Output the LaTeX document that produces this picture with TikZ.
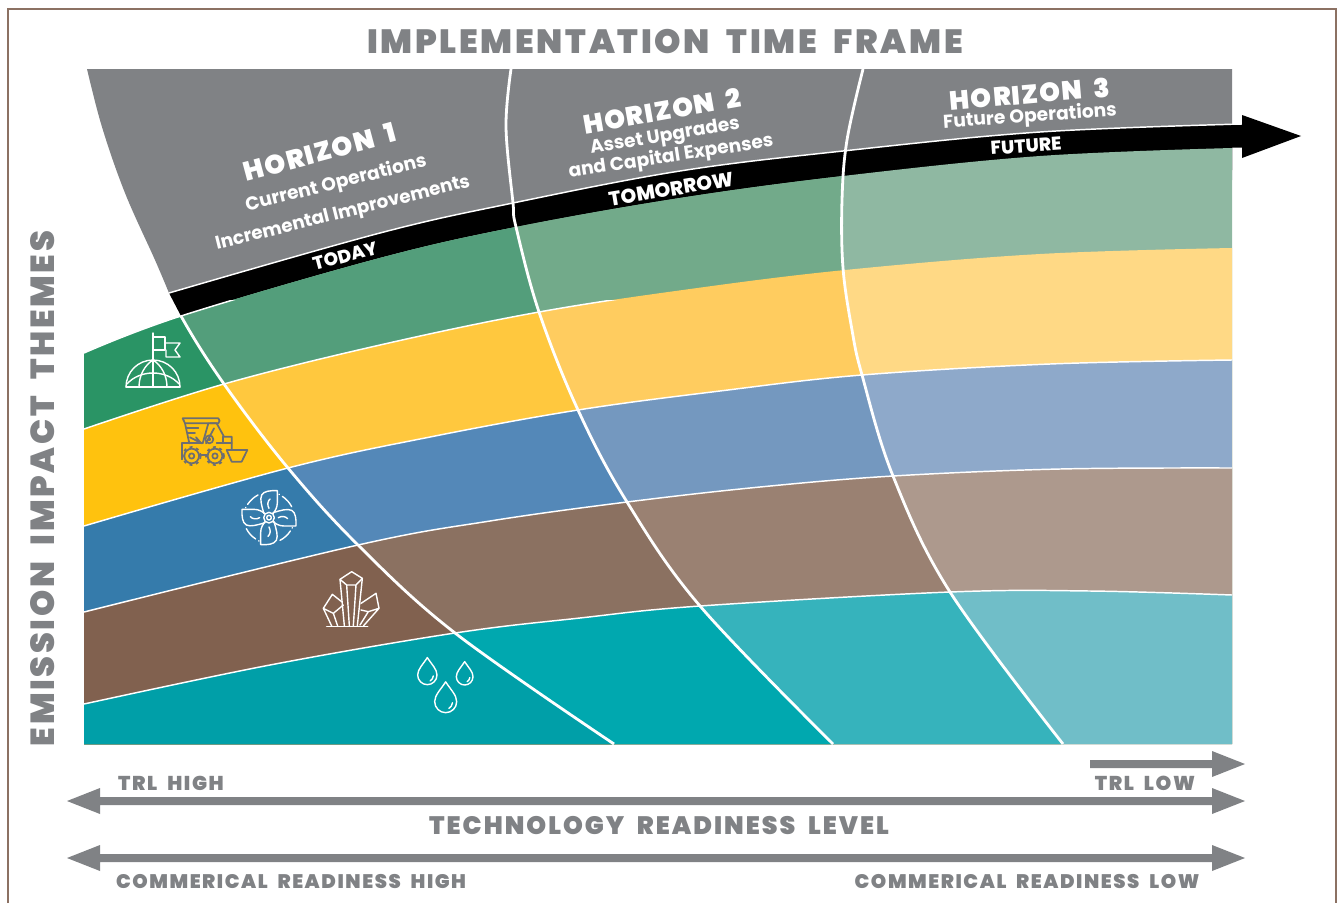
\documentclass[tikz,border=0pt]{standalone}
\usepackage{fontspec}
\newfontfamily\fxb[LetterSpace=8,WordSpace=2]{Poppins Black}
\newfontfamily\fxh[LetterSpace=5,WordSpace=2]{Poppins Black}
\newfontfamily\fxs{Poppins ExtraBold}
\newfontfamily\fsb{Poppins Bold}
\definecolor{grayc}{HTML}{808285}
\definecolor{iconc}{HTML}{6D6E71}
\definecolor{frame}{HTML}{8C7163}
\definecolor{gA}{HTML}{2A9465}\definecolor{yA}{HTML}{FFC20E}\definecolor{bA}{HTML}{357BAB}\definecolor{nA}{HTML}{81614F}\definecolor{tA}{HTML}{009FA8}
\definecolor{gB}{HTML}{539E7B}\definecolor{yB}{HTML}{FFC83E}\definecolor{bB}{HTML}{5488B8}\definecolor{nB}{HTML}{8B7161}\definecolor{tB}{HTML}{00A8AF}
\definecolor{gC}{HTML}{72AA8A}\definecolor{yC}{HTML}{FFCC5F}\definecolor{bC}{HTML}{7498BF}\definecolor{nC}{HTML}{9A8172}\definecolor{tC}{HTML}{36B3BC}
\definecolor{gD}{HTML}{8FB8A2}\definecolor{yD}{HTML}{FFD985}\definecolor{bD}{HTML}{8EA9CA}\definecolor{nD}{HTML}{AD998D}\definecolor{tD}{HTML}{70BEC8}
\def\Rt{plot[smooth,tension=.6] coordinates {(169,293) (380,233) (513,203) (680,171) (843,151) (1040,132) (1242,124)}}
\def\Bz{plot[smooth,tension=.6] coordinates {(84,353) (181,316) (380,258) (516,227) (680,198) (843,176) (1040,156) (1232,148)}}
\def\Ba{plot[smooth,tension=.6] coordinates {(84,429) (224,384) (380,345) (539,312) (690,289) (845,270) (1040,254) (1232,248)}}
\def\Bb{plot[smooth,tension=.6] coordinates {(84,526) (288,468) (430,437) (578,410) (720,391) (862,375) (1050,364) (1232,360)}}
\def\Bc{plot[smooth,tension=.6] coordinates {(84,612) (358,545) (490,521) (627,502) (760,487) (893,476) (1060,469) (1232,468)}}
\def\Bd{plot[smooth,tension=.6] coordinates {(84,704) (270,665) (455,633) (580,618) (700,606) (950,592) (1090,591) (1232,595)}}
\def\Ae{plot[smooth,tension=.6] coordinates {(87,69) (102,127) (125,193) (155,260) (169,293)}}
\def\Ao{plot[smooth,tension=.6] coordinates {(87,69) (102,127) (125,193) (155,260) (181,316) (224,384) (288,468) (358,545) (455,633) (614,744)}}
\def\At{plot[smooth,tension=.6] coordinates {(511,69) (506,127) (513,203) (516,227) (539,312) (578,410) (627,502) (700,606) (833,744)}}
\def\Ah{plot[smooth,tension=.6] coordinates {(863,69) (847,140) (842,200) (843,268) (852,330) (862,375) (893,476) (950,592) (1063,744)}}
\newcommand\bandset[5]{%
  \fill[#1] \Bz -- (1232,744) -- (84,744) -- cycle;
  \fill[#2] \Ba -- (1232,744) -- (84,744) -- cycle;
  \fill[#3] \Bb -- (1232,744) -- (84,744) -- cycle;
  \fill[#4] \Bc -- (1232,744) -- (84,744) -- cycle;
  \fill[#5] \Bd -- (1232,744) -- (84,744) -- cycle;}
\newcommand\dropshape[3]{%
  (#1,#2-1.8*#3) .. controls (#1+0.45*#3,#2-1.1*#3) and (#1+#3,#2-0.6*#3) .. (#1+#3,#2)
  .. controls (#1+#3,#2+0.55*#3) and (#1+0.55*#3,#2+#3) .. (#1,#2+#3)
  .. controls (#1-0.55*#3,#2+#3) and (#1-#3,#2+0.55*#3) .. (#1-#3,#2)
  .. controls (#1-#3,#2-0.6*#3) and (#1-0.45*#3,#2-1.1*#3) .. (#1,#2-1.8*#3) -- cycle
  (#1+0.62*#3,#2+0.1*#3) .. controls (#1+0.6*#3,#2+0.35*#3) and (#1+0.45*#3,#2+0.5*#3) .. (#1+0.3*#3,#2+0.6*#3)}
\tikzset{
  bigcap/.style={text=grayc,inner sep=0pt},
  onwhite/.style={text=white,inner sep=0pt},
  iconw/.style={draw=white,line width=1.05pt,line join=round,line cap=round},
  icong/.style={draw=iconc,line width=1.3pt,line join=round,line cap=round},
  zoomA/.style={shift={(70,300)},x=0.25pt,y=-0.25pt},
  zoomB/.style={shift={(300,560)},x=0.25pt,y=-0.25pt},
}
\begin{document}
\begin{tikzpicture}[x=0.75pt,y=-0.75pt]
\useasboundingbox (0,0) rectangle (1341,903);
\draw[frame,line width=2pt] (8,903) -- (8,9) -- (1336,9) -- (1336,903);
% grey field
\fill[grayc] \Ae -- (400,280) -- (1232,180) -- (1232,69) -- cycle;
% ribbon
\fill[black] \Rt -- (1232,148) -- (1232,170) -- (200,340) -- (181,316) -- cycle;
% bands
\bandset{gD}{yD}{bD}{nD}{tD}
\begin{scope}
\clip \Ah -- (1063,760) -- (0,760) -- (0,0) -- (863,0) -- cycle;
\bandset{gC}{yC}{bC}{nC}{tC}
\end{scope}
\begin{scope}
\clip \At -- (833,760) -- (0,760) -- (0,0) -- (511,0) -- cycle;
\bandset{gB}{yB}{bB}{nB}{tB}
\end{scope}
\begin{scope}
\clip \Ao -- (614,760) -- (0,760) -- (0,0) -- (87,0) -- cycle;
\bandset{gA}{yA}{bA}{nA}{tA}
\end{scope}
% band separators
\draw[white,line width=1.1pt] \Rt;
\begin{scope}
\clip (84,300) rectangle (1240,744.5);
\draw[white,line width=1.1pt] \Bz;
\draw[white,line width=1.1pt] \Ba;
\draw[white,line width=1.1pt] \Bb;
\draw[white,line width=1.1pt] \Bc;
\draw[white,line width=1.1pt] \Bd;
\end{scope}
% arrow head and end of the shaft
\fill[black] (1231,125) -- (1242,125) -- (1242,115) -- (1301,136) -- (1242,158) -- (1242,147.5) -- (1231,147.5) -- cycle;
% horizon arcs
\begin{scope}
\clip (170,316) rectangle (1240,744.5);
\draw[white,line width=2.1pt] \Ao;
\end{scope}
\begin{scope}
\clip (400,69) rectangle (1240,744.5);
\draw[white,line width=2.1pt] \At;
\draw[white,line width=2.1pt] \Ah;
\end{scope}
% titles
\node[bigcap,font=\fxb\fontsize{25.2}{25.2}\selectfont] (title) at (665,42) {IMPLEMENTATION TIME FRAME};
\node[bigcap,font=\fxb\fontsize{25}{25}\selectfont,rotate=90] (ytitle) at (43,488.5) {EMISSION IMPACT THEMES};
% horizon labels
\node[onwhite,font=\fxh\fontsize{20}{20}\selectfont,rotate=15] (h1) at (320,152) {HORIZON 1};
\node[onwhite,font=\fsb\fontsize{14}{14}\selectfont,rotate=14] (h1a) at (336,184) {Current Operations};
\node[onwhite,font=\fsb\fontsize{13.8}{13.8}\selectfont,rotate=14] (h1b) at (343,214) {Incremental Improvements};
\node[onwhite,font=\fxs\fontsize{13.8}{13.8}\selectfont,rotate=15] (today) at (345,256) {TODAY};
\node[onwhite,font=\fxh\fontsize{19.8}{19.8}\selectfont,rotate=10] (h2) at (662,111) {HORIZON 2};
\node[onwhite,font=\fsb\fontsize{14}{14}\selectfont,rotate=9.5] (h2a) at (665,137) {Asset Upgrades};
\node[onwhite,font=\fsb\fontsize{14}{14}\selectfont,rotate=8.7] (h2b) at (671,157) {and Capital Expenses};
\node[onwhite,font=\fxs\fontsize{15}{15}\selectfont,rotate=9.5] (tomorrow) at (671,189) {TOMORROW};
\node[onwhite,font=\fxh\fontsize{19.8}{19.8}\selectfont,rotate=5] (h3) at (1030,94) {HORIZON 3};
\node[onwhite,font=\fsb\fontsize{14}{14}\selectfont,rotate=4] (h3a) at (1030,117) {Future Operations};
\node[onwhite,font=\fxs\fontsize{14}{14}\selectfont,rotate=4] (future) at (1026,146) {FUTURE};
% readiness arrows
\fill[grayc] (1090,760) -- (1212,760) -- (1212,751) -- (1245,764) -- (1212,777) -- (1212,768) -- (1090,768) -- cycle;
\foreach \y in {801,858}{
\fill[grayc] (67,\y) -- (100,\y-13) -- (100,\y-4) -- (1212,\y-4) -- (1212,\y-13) -- (1245,\y) -- (1212,\y+13) -- (1212,\y+4) -- (100,\y+4) -- (100,\y+13) -- cycle;}
\node[bigcap,font=\fxb\fontsize{15}{15}\selectfont] (trlh) at (171,783) {TRL HIGH};
\node[bigcap,font=\fxb\fontsize{15}{15}\selectfont] (trll) at (1145,783) {TRL LOW};
\node[bigcap,font=\fxb\fontsize{18.9}{18.9}\selectfont] (trl) at (659,826) {TECHNOLOGY READINESS LEVEL};
\node[bigcap,font=\fxb\fontsize{14.7}{14.7}\selectfont] (crh) at (291,881) {COMMERICAL READINESS HIGH};
\node[bigcap,font=\fxb\fontsize{14.7}{14.7}\selectfont] (crl) at (1027,881) {COMMERICAL READINESS LOW};
% flag globe
\begin{scope}[iconw]
\draw (126,387) -- (180,387);
\draw (126,387) .. controls (126,372) and (138,360) .. (153,360) .. controls (168,360) and (180,372) .. (180,387);
\draw (139,387) .. controls (139,375) and (145,365) .. (153,360) .. controls (161,365) and (167,375) .. (167,387);
\draw (153,333) -- (153,387);
\draw (127,384) .. controls (133,377) and (143,373) .. (153,373) .. controls (163,373) and (173,377) .. (179,384);
\draw (153,337) -- (165,337) -- (165,350) -- (153,350);
\draw (166,343) -- (180,343) -- (175,350) -- (180,357) -- (166,357) -- (166,350);
\end{scope}
% loader
\begin{scope}[zoomA,icong]
\draw (338,355) -- (445,355) .. controls (450,362) .. (445,370) -- (345,370) (338,355) -- (345,370);
\draw (345,370) -- (358,430);
\draw (415,370) -- (398,430);
\draw (350,385) -- (385,385) (354,400) -- (375,400);
\draw (360,412) -- (395,430) (378,412) -- (392,428);
\draw (420,370) -- (440,370) -- (462,410) -- (485,410) -- (485,450);
\draw (432,385) -- (408,430);
\draw (418,418) circle[radius=12] (418,418) circle[radius=3];
\draw (398,430) -- (335,430) -- (335,478);
\draw (440,430) -- (485,430) (460,410) -- (460,430);
\draw (470,450) -- (532,450) -- (515,485) -- (485,485) -- cycle;
\draw (365,468) circle[radius=22] (365,468) circle[radius=8];
\draw (435,468) circle[radius=22] (435,468) circle[radius=8];
\draw (388,465) -- (412,465);
\draw[dash pattern=on 2.2pt off 2.8pt,line cap=butt] (365,468) circle[radius=27] (435,468) circle[radius=27];
\end{scope}
% propeller
\begin{scope}[zoomA,iconw]
\draw (597,653) circle[radius=16] (597,653) circle[radius=7];
\foreach \a in {0,90,180,270}{
\begin{scope}[shift={(597,653)},rotate=\a]
\draw (-15,-12) .. controls (-22,-35) and (-28,-55) .. (-22,-68) .. controls (-16,-80) and (5,-82) .. (25,-81) -- (25,-45) .. controls (25,-30) and (18,-20) .. (12,-12);
\draw (0,-28) .. controls (-6,-38) and (-4,-50) .. (3,-56);
\draw (40,-64) .. controls (52,-56) and (62,-45) .. (68,-33);
\draw (30,-70) -- (31,-69.5);
\end{scope}}
\end{scope}
% crystals
\begin{scope}[zoomB,iconw]
\draw (80,200) -- (203,200);
\draw (133,197) -- (120,58) -- (155,35) -- (187,55) -- (172,197);
\draw (120,58) -- (140,75) -- (168,75) -- (187,55) (140,75) -- (148,197) (168,75) -- (160,197);
\draw (95,198) -- (70,145) -- (97,103) -- (125,125) (70,145) -- (100,160) -- (130,135) (100,160) -- (113,198);
\draw (183,130) -- (228,100) -- (237,145) -- (190,198) (183,150) -- (205,155) -- (237,145) (205,155) -- (180,195);
\end{scope}
% drops
\begin{scope}[zoomB,iconw]
\draw \dropshape{382}{345}{29};
\draw \dropshape{494}{350}{25};
\draw \dropshape{437}{425}{33};
\end{scope}
\end{tikzpicture}
\end{document}
